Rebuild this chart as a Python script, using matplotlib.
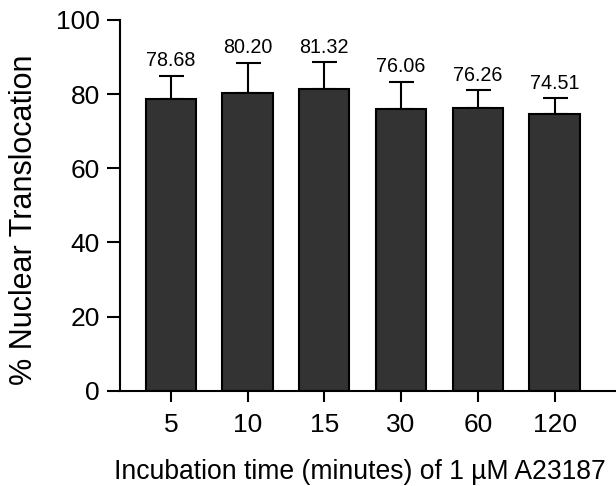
import matplotlib
matplotlib.use("Agg")
import matplotlib.pyplot as plt
import numpy as np

plt.rcParams['font.family'] = ['Liberation Sans', 'DejaVu Sans']

# Incubation times (minutes) and nuclear translocation results
times = ["5", "10", "15", "30", "60", "120"]
means = [78.68, 80.20, 81.32, 76.06, 76.26, 74.51]
sds = [6.2, 8.3, 7.3, 7.3, 4.8, 4.4]

fig = plt.figure(figsize=(6.16, 4.86), dpi=100)
ax = fig.add_axes([0.1945, 0.196, 0.8055, 0.763])

x = np.arange(len(times))
ax.bar(x, means, width=0.655, color="#333333", edgecolor="black",
       linewidth=1.5, zorder=2)
ax.errorbar(x, means, yerr=[np.zeros(len(sds)), sds], fmt="none",
            ecolor="black", elinewidth=1.5, capsize=9, capthick=1.5, zorder=1)

for xi, m, s in zip(x, means, sds):
    ax.annotate(f"{m:.2f}", (xi, m + s), xytext=(0, 4),
                textcoords="offset points", ha="center", va="bottom",
                fontsize=14.2)

ax.set_xlim(-0.665, 5.8)
ax.set_ylim(0, 100)
ax.set_yticks([0, 20, 40, 60, 80, 100])
ax.set_xticks(x)
ax.set_xticklabels(times)

for side in ("top", "right"):
    ax.spines[side].set_visible(False)
for side in ("left", "bottom"):
    ax.spines[side].set_linewidth(1.5)

ax.tick_params(axis="y", length=9.5, width=1.5, labelsize=19, pad=5)
ax.tick_params(axis="x", length=8, width=1.5, labelsize=19, pad=8)

ax.set_ylabel("% Nuclear Translocation", fontsize=22)
ax.yaxis.set_label_coords(-0.163, 0.46)
ax.set_xlabel("Incubation time (minutes) of 1 µM A23187", fontsize=19.1)
ax.xaxis.set_label_coords(0.484, -0.185)

fig.savefig("out.png", dpi=100)
